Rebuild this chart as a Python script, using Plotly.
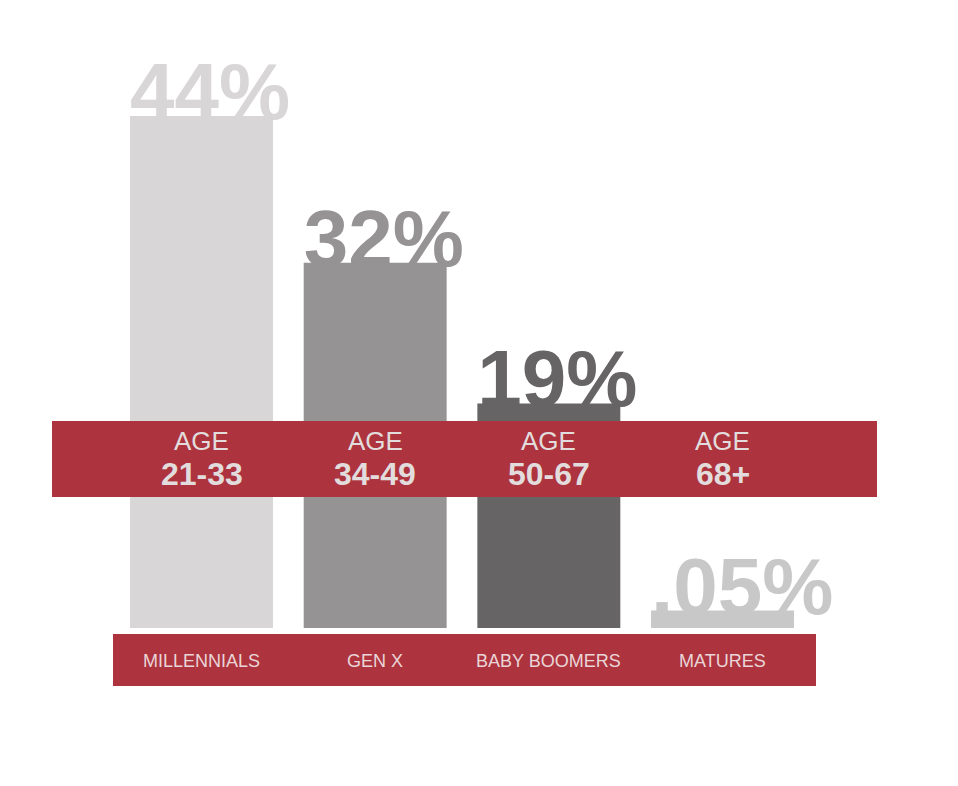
"""Generations share bar chart with red label bands."""

import plotly.graph_objects as go

# Data
generations = ["MILLENNIALS", "GEN X", "BABY BOOMERS", "MATURES"]
age_ranges = ["21-33", "34-49", "50-67", "68+"]
pct_labels = ["44%", "32%", "19%", ".05%"]
bar_values = [44, 31.4, 19.3, 1.5]

BAR_COLORS = ["#d8d6d7", "#959394", "#666465", "#c8c8c8"]
RED = "#ad343e"
FONT = "Liberation Sans, Arial, sans-serif"

# page has an 8px body margin, so the figure is a bit smaller than the window
OFF = 8
W, H = 958 - 2 * OFF, 786 - 2 * OFF
BAR_W = 0.823
PX_X = 173.67   # px per category
PX_Y = 11.636   # px per percent point
positions = list(range(len(generations)))

x0 = -(201.5 - OFF) / PX_X
x_range = [x0, x0 + W / PX_X]
y1 = (628 - OFF) / PX_Y
y_range = [y1 - H / PX_Y, y1]

# label baseline sits a little below the bar top
label_drop = 23 / PX_Y


def px_x(p):
    return (p - OFF) / W


def px_y(p):
    return 1 - (p - OFF) / H


fig = go.Figure()

# percent labels sit behind the bars (base axes)
fig.add_trace(go.Scatter(
    x=[p - BAR_W / 2 for p in positions],
    y=[v - label_drop for v in bar_values],
    mode="text",
    text=pct_labels,
    textposition="top right",
    textfont=dict(family=FONT, size=80, color=BAR_COLORS, weight="bold"),
    hoverinfo="skip",
    cliponaxis=False,
    showlegend=False,
))

# bars on overlaying axes so they are drawn above the labels
fig.add_trace(go.Bar(
    x=positions,
    y=bar_values,
    width=BAR_W,
    marker=dict(color=BAR_COLORS, line=dict(width=0)),
    xaxis="x2",
    yaxis="y2",
    hoverinfo="skip",
    showlegend=False,
))

# red bands
fig.add_shape(type="rect", xref="paper", yref="paper", layer="above",
              x0=px_x(52), x1=px_x(877), y0=px_y(497), y1=px_y(421),
              fillcolor=RED, line=dict(width=0))
fig.add_shape(type="rect", xref="paper", yref="paper", layer="above",
              x0=px_x(113), x1=px_x(816), y0=px_y(686), y1=px_y(634),
              fillcolor=RED, line=dict(width=0))

for pos, ages, gen in zip(positions, age_ranges, generations):
    fig.add_annotation(x=pos, y=px_y(441), xref="x", yref="paper",
                       yanchor="middle", text="AGE", showarrow=False,
                       font=dict(family=FONT, size=26, color="#e2dcdd"))
    fig.add_annotation(x=pos, y=px_y(474), xref="x", yref="paper",
                       yanchor="middle", text=f"<b>{ages}</b>", showarrow=False,
                       font=dict(family=FONT, size=32, color="#e2dcdd"))
    fig.add_annotation(x=pos, y=px_y(661), xref="x", yref="paper",
                       yanchor="middle", text=gen, showarrow=False,
                       font=dict(family=FONT, size=18, color="#ead5d8"))

axis_off = dict(visible=False, showgrid=False, zeroline=False, fixedrange=True)
fig.update_layout(
    width=W,
    height=H,
    margin=dict(l=0, r=0, t=0, b=0),
    paper_bgcolor="white",
    plot_bgcolor="white",
    xaxis=dict(range=x_range, **axis_off),
    yaxis=dict(range=y_range, **axis_off),
    xaxis2=dict(range=x_range, overlaying="x", **axis_off),
    yaxis2=dict(range=y_range, overlaying="y", **axis_off),
    hovermode=False,
)

fig.write_html("out.html", config={"displayModeBar": False})
